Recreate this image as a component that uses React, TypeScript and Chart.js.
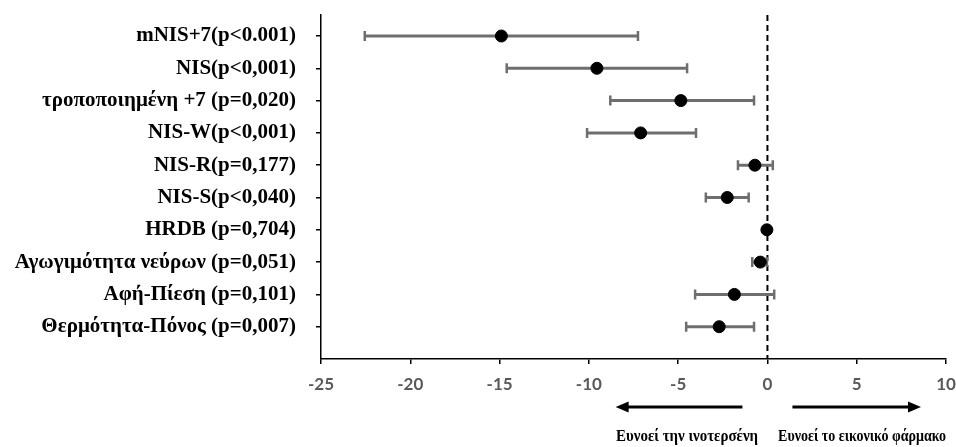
import React, { useEffect, useRef } from 'react';
import { Chart, registerables } from 'chart.js';

Chart.register(...registerables);

const categories = [
  'mNIS+7(p<0.001)',
  'NIS(p<0,001)',
  'τροποποιημένη +7 (p=0,020)',
  'NIS-W(p<0,001)',
  'NIS-R(p=0,177)',
  'NIS-S(p<0,040)',
  'HRDB (p=0,704)',
  'Αγωγιμότητα νεύρων (p=0,051)',
  'Αφή-Πίεση (p=0,101)',
  'Θερμότητα-Πόνος (p=0,007)',
];
const estimates = [-14.9, -9.55, -4.85, -7.1, -0.7, -2.25, -0.03, -0.4, -1.85, -2.7];
const lowerCI = [-22.55, -14.6, -8.8, -10.1, -1.65, -3.45, -0.1, -0.85, -4.05, -4.55];
const upperCI = [-7.25, -4.5, -0.75, -4.0, 0.3, -1.05, 0.05, -0.03, 0.38, -0.75];

const xTickMin = -25;
const xTickMax = 10;
const xTickStep = 5;

const arrowLeft = [-1.4, -8.5];
const arrowRight = [1.4, 8.6];
const favourLabels = ['Ευνοεί την ινοτερσένη', 'Ευνοεί το εικονικό φάρμακο'];
const favourCenters = [-4.5, 5.3];
const favourMaxWidths = [142, 168];

const yPos = categories.map((_, i) => categories.length - i);

const overlayPlugin = {
  id: 'overlay',
  beforeDatasetsDraw(chart: any) {
    const { ctx, chartArea, scales } = chart;
    const xs = scales.x;
    const ys = scales.y;
    ctx.save();
    const x0 = xs.getPixelForValue(0);
    ctx.strokeStyle = '#000';
    ctx.lineWidth = 2;
    ctx.setLineDash([6, 4]);
    ctx.beginPath();
    ctx.moveTo(x0, chartArea.top);
    ctx.lineTo(x0, chartArea.bottom);
    ctx.stroke();
    ctx.setLineDash([]);
    ctx.strokeStyle = '#6e6e6e';
    categories.forEach((_, i) => {
      const y = ys.getPixelForValue(yPos[i]);
      const xl = xs.getPixelForValue(lowerCI[i]);
      const xr = xs.getPixelForValue(upperCI[i]);
      ctx.lineWidth = 3;
      ctx.beginPath();
      ctx.moveTo(xl, y);
      ctx.lineTo(xr, y);
      ctx.stroke();
      ctx.lineWidth = 2.5;
      ctx.beginPath();
      ctx.moveTo(xl, y - 5);
      ctx.lineTo(xl, y + 5);
      ctx.moveTo(xr, y - 5);
      ctx.lineTo(xr, y + 5);
      ctx.stroke();
    });
    ctx.restore();
  },
  afterDraw(chart: any) {
    const { ctx, scales } = chart;
    const xs = scales.x;
    ctx.save();
    const ay = 407;
    const drawArrow = (from: number, to: number) => {
      const x1 = xs.getPixelForValue(from);
      const x2 = xs.getPixelForValue(to);
      const dir = Math.sign(x2 - x1);
      ctx.strokeStyle = '#000';
      ctx.fillStyle = '#000';
      ctx.lineWidth = 3;
      ctx.beginPath();
      ctx.moveTo(x1, ay);
      ctx.lineTo(x2 - dir * 10, ay);
      ctx.stroke();
      ctx.beginPath();
      ctx.moveTo(x2, ay);
      ctx.lineTo(x2 - dir * 13, ay - 5.5);
      ctx.lineTo(x2 - dir * 13, ay + 5.5);
      ctx.closePath();
      ctx.fill();
    };
    drawArrow(arrowLeft[0], arrowLeft[1]);
    drawArrow(arrowRight[0], arrowRight[1]);
    ctx.font = "bold 16.5px 'Liberation Serif', 'Times New Roman', serif";
    ctx.fillStyle = '#000';
    ctx.textAlign = 'center';
    ctx.textBaseline = 'middle';
    favourLabels.forEach((t, i) => {
      ctx.fillText(t, xs.getPixelForValue(favourCenters[i]), 437, favourMaxWidths[i]);
    });
    ctx.restore();
  },
};

export default function App() {
  const canvasRef = useRef<HTMLCanvasElement>(null);
  useEffect(() => {
    if (!canvasRef.current) return;
    const chart = new Chart(canvasRef.current, {
      type: 'scatter',
      data: {
        datasets: [
          {
            data: estimates.map((x, i) => ({ x, y: yPos[i] })),
            pointRadius: 6,
            pointHoverRadius: 6,
            backgroundColor: '#000',
            borderColor: '#000',
            showLine: false,
          },
        ],
      },
      options: {
        responsive: true,
        maintainAspectRatio: false,
        animation: false,
        layout: { autoPadding: false, padding: { top: 15, right: 10, left: 0, bottom: 0 } },
        plugins: { legend: { display: false }, tooltip: { enabled: false } },
        scales: {
          x: {
            type: 'linear',
            min: xTickMin,
            max: xTickMax,
            afterFit: (s: any) => {
              s.height = 88;
              s.paddingLeft = 0;
              s.paddingRight = 0;
            },
            ticks: {
              stepSize: xTickStep,
              color: '#595959',
              font: { family: "Lato, 'Liberation Sans', sans-serif", size: 17, weight: 'bold' },
              padding: 10,
            },
            grid: { drawOnChartArea: false, tickLength: 5, color: '#000', lineWidth: 1.5 },
            border: { color: '#000', width: 1.5 },
          },
          y: {
            type: 'linear',
            min: 0,
            max: 10.65,
            afterFit: (s: any) => {
              s.width = 321;
              s.paddingTop = 0;
              s.paddingBottom = 0;
            },
            afterBuildTicks: (s: any) => {
              s.ticks = yPos.map((v) => ({ value: v }));
            },
            ticks: {
              color: '#000',
              font: { family: "'Liberation Serif', 'Times New Roman', serif", size: 21, weight: 'bold' },
              padding: 20,
              autoSkip: false,
              callback: (v: any) => categories[categories.length - Number(v)] ?? '',
            },
            grid: { drawOnChartArea: false, tickLength: 5, color: '#000', lineWidth: 1.5 },
            border: { color: '#000', width: 1.5 },
          },
        },
      },
      plugins: [overlayPlugin],
    });
    return () => chart.destroy();
  }, []);
  return (
    <div style={{ position: 'fixed', left: 0, top: 0, width: 956, height: 447, background: '#fff' }}>
      <canvas ref={canvasRef} />
    </div>
  );
}
